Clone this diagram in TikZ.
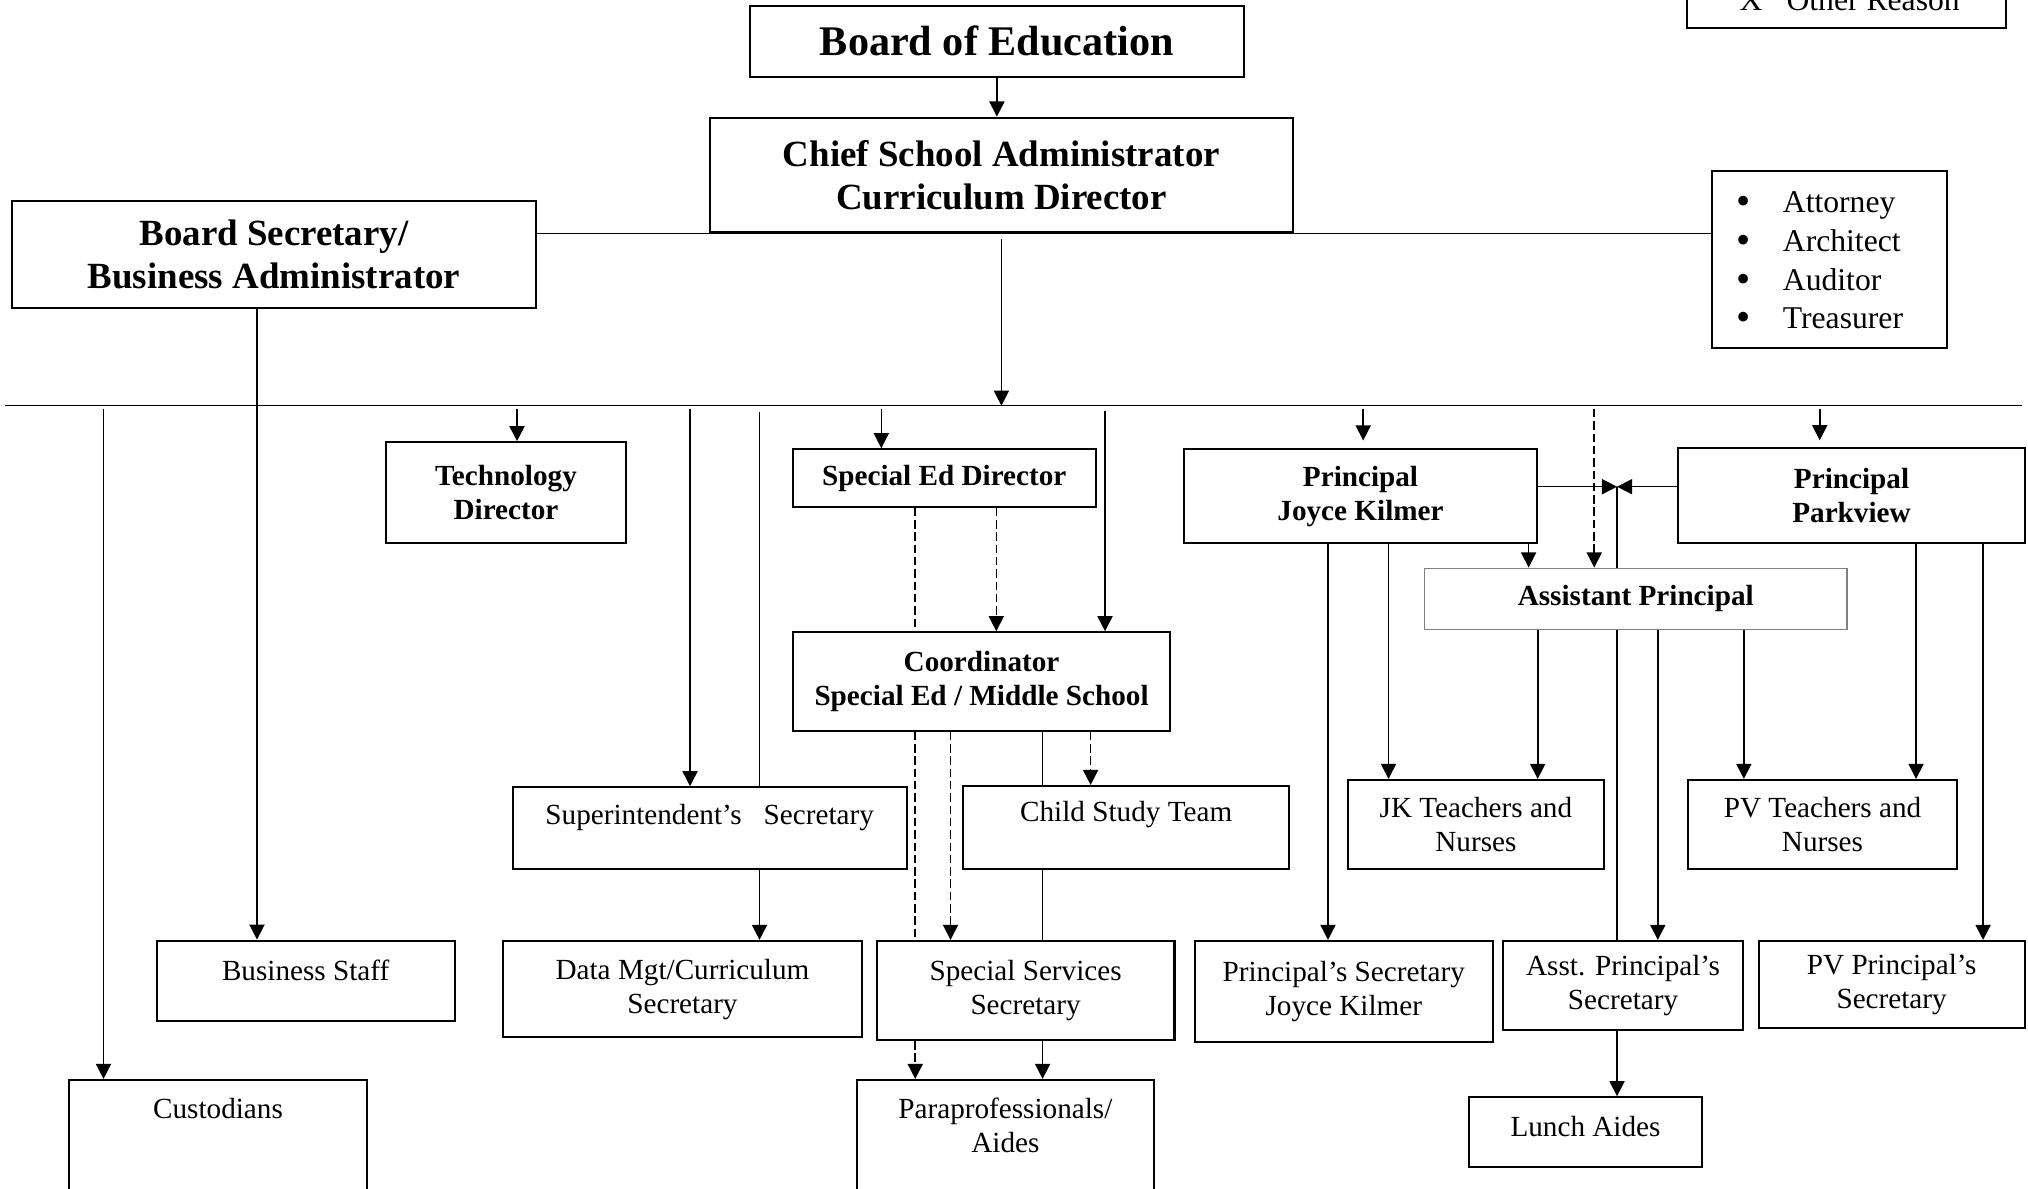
\documentclass[tikz,border=0pt]{standalone}
\usepackage{fontspec}
\setmainfont{Liberation Serif}
\usetikzlibrary{arrows.meta}
\newcommand{\itemdot}{\raisebox{-0.6pt}{\fontsize{11.5}{11}\selectfont\textbullet}}

\begin{document}
\begin{tikzpicture}[x=0.01cm, y=-0.01cm,
  >={Triangle[length=4.3pt,width=4.3pt]},
  box/.style={draw, line width=0.6pt, inner sep=0pt, align=center},
  bigtext/.style={font=\fontsize{12}{14}\selectfont\bfseries},
  headtext/.style={font=\fontsize{10.5}{12.1}\selectfont\bfseries},
  subtext/.style={font=\fontsize{8.3}{9.6}\selectfont\bfseries},
  plaintext/.style={font=\fontsize{8.3}{9.6}\selectfont, align=center},
  wire/.style={line width=0.45pt},
  feed/.style={wire, ->},
  dwire/.style={wire, dash pattern=on 2.4pt off 1.1pt},
  dfeed/.style={dwire, ->}]
\useasboundingbox (0,0) rectangle (2028,1188);
% Board and chief
\node[box, bigtext, minimum width=4.93cm, minimum height=0.707cm] (boe) at (996.9,41.3) {Board of Education};
\node[box, headtext, minimum width=5.83cm, minimum height=1.146cm] (chief) at (1001.4,175) {Chief School Administrator\\Curriculum Director};
\node[box, headtext, minimum width=5.24cm, minimum height=1.07cm] (bsec) at (274,254.5) {Board Secretary/\\Business Administrator};
% Legend, cut by the top edge
\node[box, minimum width=3.19cm, minimum height=0.6cm] (legend) at (1846.4,-2) {};
\node[anchor=base west, inner sep=0pt, font=\fontsize{9}{11}\selectfont] (legend-t) at (1739,10.5) {X\hspace{0.24cm}Other Reason};
% Outside services
\node[box, minimum width=2.35cm, minimum height=1.776cm] (services) at (1829.5,259.5) {};
\node[anchor=base west, inner sep=0pt, font=\fontsize{9}{11}\selectfont] (services-t) at (1736,212.7)
  {\begin{tabular}[t]{@{}l@{\hspace{0.32cm}}l@{}}
   \itemdot & Attorney\\ \itemdot & Architect\\ \itemdot & Auditor\\ \itemdot & Treasurer
   \end{tabular}};
% Directors and principals
\node[box, subtext, minimum width=2.4cm, minimum height=1.01cm] (tech) at (506,492.8) {Technology\\Director};
\node[box, subtext, minimum width=3.027cm, minimum height=0.574cm] (sped) at (944.25,478) {Special Ed Director};
\node[box, subtext, minimum width=3.773cm, minimum height=0.984cm] (coord) at (981.55,681.5) {Coordinator\\Special Ed / Middle School};
\node[box, subtext, minimum width=3.536cm, minimum height=0.94cm] (pjk) at (1360.5,496.3) {Principal\\Joyce Kilmer};
\node[box, subtext, minimum width=3.47cm, minimum height=0.956cm] (ppv) at (1851.5,495.5) {Principal\\Parkview};
\node[box, subtext, draw=gray, line width=0.4pt, minimum width=4.225cm, minimum height=0.61cm] (ap) at (1635.75,598.8) {Assistant Principal};
% Staff, middle row
\node[box, minimum width=3.939cm, minimum height=0.82cm] (supt) at (709.65,828.3) {};
\node[plaintext] (supt-t) at ([yshift=0.109cm]supt) {Superintendent’s\hspace{0.22cm}Secretary};
\node[box, minimum width=3.253cm, minimum height=0.833cm] (cst) at (1126.15,827.65) {};
\node[plaintext] (cst-t) at ([yshift=0.13cm]cst) {Child Study Team};
\node[box, plaintext, minimum width=2.562cm, minimum height=0.89cm] (jkt) at (1475.9,824.5) {JK Teachers and\\Nurses};
\node[box, plaintext, minimum width=2.69cm, minimum height=0.89cm] (pvt) at (1822.5,824.5) {PV Teachers and\\Nurses};
% Staff, lower row
\node[box, minimum width=2.977cm, minimum height=0.806cm] (staff) at (305.65,981) {};
\node[plaintext] (staff-t) at ([yshift=0.11cm]staff) {Business Staff};
\node[box, plaintext, minimum width=3.581cm, minimum height=0.963cm] (dmgt) at (682.45,989.15) {Data Mgt/Curriculum\\Secretary};
\node[box, plaintext, minimum width=2.976cm, minimum height=0.99cm] (sss) at (1025.6,990.5) {Special Services\\Secretary};
\node[box, plaintext, minimum width=2.979cm, minimum height=1.007cm] (pjks) at (1343.75,991.35) {Principal’s Secretary\\Joyce Kilmer};
\node[box, plaintext, minimum width=2.406cm, minimum height=0.89cm] (aps) at (1623,985.5) {Asst. Principal’s\\Secretary};
\node[box, plaintext, minimum width=2.66cm, minimum height=0.87cm] (pvs) at (1891.6,984.5) {PV Principal’s\\Secretary};
% Bottom row, cut by the lower edge
\node[box, minimum width=2.97cm, minimum height=1.4cm] (cust) at (218,1150) {};
\node[plaintext] (cust-t) at ([yshift=-0.292cm]cust.north) {Custodians};
\node[box, minimum width=2.968cm, minimum height=1.4cm] (para) at (1005.4,1150) {};
\node[plaintext] (para-t) at ([yshift=-0.465cm]para.north) {Paraprofessionals/\\Aides};
\node[box, minimum width=2.33cm, minimum height=0.694cm] (lunch) at (1585.5,1132) {};
\node[plaintext] (lunch-t) at ([yshift=0.054cm]lunch) {Lunch Aides};
% Upper links
\draw[feed] (boe.south) -- (boe.south |- chief.north);
\draw[wire] (bsec.east |- chief.south) -- (services.west |- chief.south);
\coordinate (busL) at (5,405.7);
\coordinate (busR) at (2022,405.7);
\draw[wire] (busL) -- (busR);
\draw[feed] ([yshift=-0.06cm]chief.south) -- (chief.south |- busL);
% Drops from the bus
\coordinate (to-cust) at (103.5,409);
\coordinate (to-tech) at (517,409);
\coordinate (to-supt) at (690,409);
\coordinate (to-dmgt) at (759.5,412);
\coordinate (to-sped) at (881.3,409);
\coordinate (to-coord) at (1105,411);
\coordinate (to-pjk) at (1363.2,409);
\coordinate (to-ap) at (1594.2,409);
\coordinate (to-ppv) at (1819.7,409);
\draw[feed] (to-cust) -- (to-cust |- cust.north);
\draw[feed] (to-tech) -- (to-tech |- tech.north);
\draw[feed] (to-supt) -- (to-supt |- supt.north);
\draw[wire] (to-dmgt) -- (to-dmgt |- supt.north);
\draw[feed] (to-dmgt |- supt.south) -- (to-dmgt |- dmgt.north);
\draw[feed] (to-sped) -- (to-sped |- sped.north);
\draw[feed] (to-coord) -- (to-coord |- coord.north);
\draw[feed, shorten >=2.2pt] (to-pjk) -- (to-pjk |- pjk.north);
\draw[dfeed] (to-ap) -- (to-ap |- ap.north);
\draw[feed, shorten >=1.8pt] (to-ppv) -- (to-ppv |- ppv.north);
% Business side
\draw[feed] ([xshift=-0.17cm]bsec.south) coordinate (bs) -- (bs |- staff.north);
% Special education
\draw[dwire] ([xshift=-0.29cm]sped.south) coordinate (sp1) -- (sp1 |- coord.north);
\draw[dwire] (sp1 |- coord.south) -- (sp1 |- sss.north);
\draw[dfeed] (sp1 |- sss.south) -- (sp1 |- para.north);
\draw[dfeed] ([xshift=0.52cm]sped.south) coordinate (sp2) -- (sp2 |- coord.north);
\draw[dfeed] ([xshift=-0.31cm]coord.south) coordinate (co1) -- (co1 |- sss.north);
\draw[wire] ([xshift=0.61cm]coord.south) coordinate (co2) -- (co2 |- cst.north);
\draw[wire] (co2 |- cst.south) -- (co2 |- sss.north);
\draw[feed] (co2 |- sss.south) -- (co2 |- para.north);
\draw[dfeed] ([xshift=1.09cm]coord.south) coordinate (co3) -- (co3 |- cst.north);
% Schools
\coordinate (meet) at (1617,486.7);
\draw[feed] (pjk.east |- meet) -- (meet);
\draw[feed] (ppv.west |- meet) -- (meet);
\draw[wire] (meet) -- (meet |- ap.north);
\draw[wire] (meet |- ap.south) -- (meet |- aps.north);
\draw[feed] (meet |- aps.south) -- (meet |- lunch.north);
\draw[feed] ([xshift=1.68cm]pjk.south) coordinate (jk1) -- (jk1 |- ap.north);
\draw[feed] ([xshift=0.28cm]pjk.south) coordinate (jk2) -- (jk2 |- jkt.north);
\draw[feed] ([xshift=-0.325cm]pjk.south) coordinate (jk3) -- (jk3 |- pjks.north);
\draw[feed] ([xshift=-0.98cm]ap.south) coordinate (ap1) -- (ap1 |- jkt.north);
\draw[feed] ([xshift=0.22cm]ap.south) coordinate (ap2) -- (ap2 |- aps.north);
\draw[feed] ([xshift=1.08cm]ap.south) coordinate (ap3) -- (ap3 |- pvt.north);
\draw[feed] ([xshift=0.645cm]ppv.south) coordinate (pv1) -- (pv1 |- pvt.north);
\draw[feed] ([xshift=1.315cm]ppv.south) coordinate (pv2) -- (pv2 |- pvs.north);
\end{tikzpicture}
\end{document}
